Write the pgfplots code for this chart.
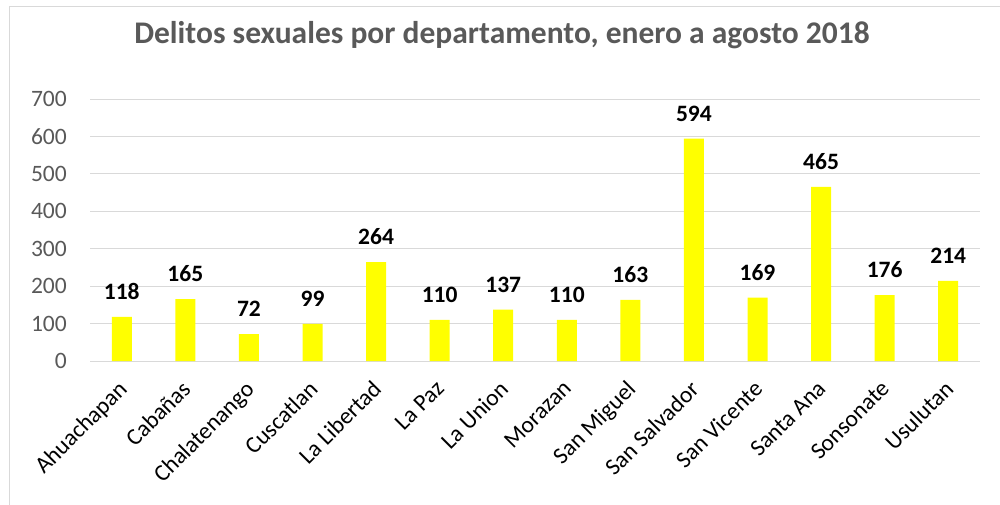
\documentclass[border=0pt]{standalone}
\usepackage{pgfplots}
\pgfplotsset{compat=1.18}
\usepackage{fontspec}
\setmainfont{Carlito}
\definecolor{txtgray}{HTML}{595959}
\definecolor{gridgray}{HTML}{D9D9D9}
\definecolor{baryellow}{HTML}{FFFF00}
\begin{document}
\begin{tikzpicture}[x=1pt,y=1pt]
\useasboundingbox (0,0) rectangle (1000,504);
\draw[gridgray, line width=1pt] (9,-10) rectangle (1010,497);
\node[font=\fontsize{31.5}{36}\selectfont\bfseries, text=txtgray] at (502,469) {Delitos sexuales por departamento, enero a agosto 2018};
\begin{axis}[
  at={(90pt,143pt)}, anchor=south west,
  scale only axis, width=890pt, height=262pt,
  xmin=-0.5, xmax=13.5, ymin=0, ymax=700,
  ytick={0,100,...,700},
  xtick={0,...,13},
  xticklabels={Ahuachapan,Cabañas,Chalatenango,Cuscatlan,La Libertad,La Paz,La Union,Morazan,San Miguel,San Salvador,San Vicente,Santa Ana,Sonsonate,Usulutan},
  axis line style={draw=none},
  major tick length=0pt,
  ymajorgrids, grid style={gridgray, line width=1pt},
  /pgf/number format/assume math mode=true,
  tick label style={font=\fontsize{23.5}{28}\selectfont},
  yticklabel style={text=txtgray, anchor=east, inner sep=0pt, xshift=-23pt},
  xticklabel style={text=black, xshift=-5pt, yshift=-18pt, rotate=45, anchor=north east, inner sep=0pt},
  ybar, bar width=20pt,
  nodes near coords,
  every node near coord/.append style={font=\fontsize{23.5}{28}\selectfont\bfseries, text=black, anchor=south, inner sep=0pt, yshift=17pt},
  clip=false,
]
\addplot[fill=baryellow, draw=none, bar shift=0pt] coordinates {
(0,118) (1,165) (2,72) (3,99) (4,264) (5,110) (6,137) (7,110) (8,163) (9,594) (10,169) (11,465) (12,176) (13,214)};
\end{axis}
\end{tikzpicture}
\end{document}
